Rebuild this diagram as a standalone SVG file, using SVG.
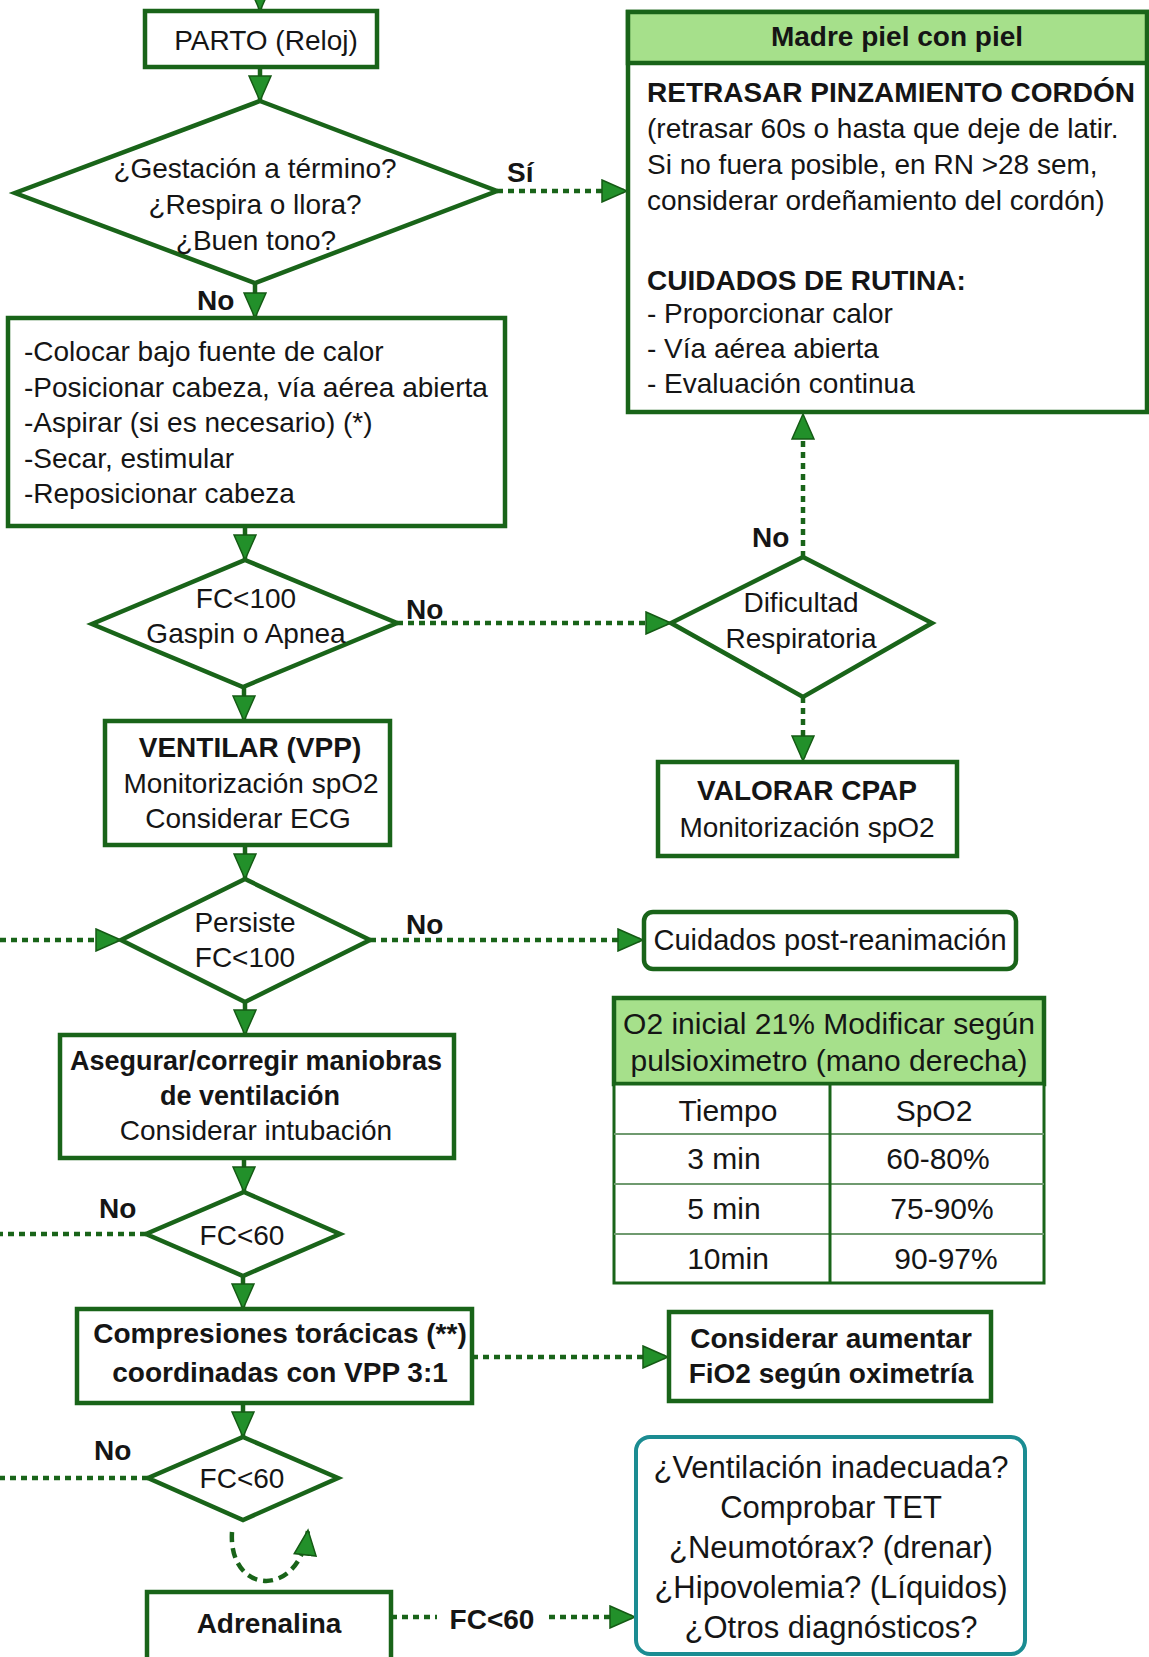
<svg xmlns="http://www.w3.org/2000/svg" width="1149" height="1657" viewBox="0 0 1149 1657">
<style>
.t{font-family:"Liberation Sans",Arial,sans-serif;font-size:28px;fill:#151515}
.b{font-weight:bold}
.c{text-anchor:middle}
.tb{font-size:30px}
.dg{font-size:31px}
.box{fill:#fff;stroke:#196419;stroke-width:4.5}
.hdr{fill:#a6e08b;stroke:#196419;stroke-width:4.5}
.solid{stroke:#196419;stroke-width:4.5;fill:none}
.dot{stroke:#196419;stroke-width:4.5;stroke-dasharray:6 5;fill:none}
.dash{stroke:#196419;stroke-width:4.5;stroke-dasharray:10 6;fill:none}
.grid{stroke:#6f9a6f;stroke-width:2;fill:none}
</style>
<defs>
<marker id="ah" markerUnits="userSpaceOnUse" markerWidth="28" markerHeight="24" refX="26" refY="12" orient="auto">
<path d="M1,1 L26,12 L1,23 z" fill="#22902a" stroke="#145a14" stroke-width="1.5"/>
</marker>
</defs>
<rect width="1149" height="1657" fill="#fff"/>

<g id="connectors">
<line class="solid" x1="260" y1="-10" x2="260" y2="11" marker-end="url(#ah)"/>
<line class="solid" x1="260" y1="67" x2="260" y2="101" marker-end="url(#ah)"/>
<line class="dot" x1="497" y1="191" x2="627" y2="191" marker-end="url(#ah)"/>
<line class="solid" x1="255" y1="283" x2="255" y2="318" marker-end="url(#ah)"/>
<line class="solid" x1="245" y1="526" x2="245" y2="560" marker-end="url(#ah)"/>
<line class="dot" x1="397" y1="623" x2="671" y2="623" marker-end="url(#ah)"/>
<line class="dot" x1="803" y1="557" x2="803" y2="414" marker-end="url(#ah)"/>
<line class="dot" x1="803" y1="697" x2="803" y2="761" marker-end="url(#ah)"/>
<line class="solid" x1="244" y1="687" x2="244" y2="721" marker-end="url(#ah)"/>
<line class="solid" x1="245" y1="845" x2="245" y2="879" marker-end="url(#ah)"/>
<line class="dot" x1="0" y1="940" x2="121" y2="940" marker-end="url(#ah)"/>
<line class="dot" x1="370" y1="940" x2="643" y2="940" marker-end="url(#ah)"/>
<line class="solid" x1="245" y1="1002" x2="245" y2="1035" marker-end="url(#ah)"/>
<line class="solid" x1="244" y1="1158" x2="244" y2="1192" marker-end="url(#ah)"/>
<line class="dot" x1="146" y1="1234" x2="0" y2="1234"/>
<line class="solid" x1="243" y1="1276" x2="243" y2="1309" marker-end="url(#ah)"/>
<line class="dot" x1="472" y1="1357" x2="668" y2="1357" marker-end="url(#ah)"/>
<line class="solid" x1="243" y1="1403" x2="243" y2="1437" marker-end="url(#ah)"/>
<line class="dot" x1="148" y1="1478" x2="0" y2="1478"/>
<path class="dash" d="M232,1532 C228,1595 300,1600 308,1530" marker-end="url(#ah)"/>
<line class="dot" x1="391" y1="1617" x2="437" y2="1617"/>
<line class="dot" x1="549" y1="1617" x2="635" y2="1617" marker-end="url(#ah)"/>
<text class="t b" x="507" y="182">Sí</text>
<text class="t b" x="197" y="310">No</text>
<text class="t b" x="406" y="619">No</text>
<text class="t b" x="752" y="547">No</text>
<text class="t b" x="406" y="934">No</text>
<text class="t b" x="99" y="1218">No</text>
<text class="t b" x="94" y="1460">No</text>
<text class="t b c" x="492" y="1629">FC&lt;60</text>
</g>

<g id="parto">
<rect class="box" x="145" y="11" width="232" height="56"/>
<text class="t c" x="266" y="50">PARTO (Reloj)</text>
</g>

<g id="decision-inicial">
<polygon class="box" points="260,101 497,191 255,283 15,193"/>
<text class="t c" x="255" y="178">¿Gestación a término?</text>
<text class="t c" x="255" y="214">¿Respira o llora?</text>
<text class="t c" x="256" y="250">¿Buen tono?</text>
</g>

<g id="madre-piel">
<rect class="box" x="628" y="12" width="519" height="400"/>
<rect class="hdr" x="628" y="12" width="519" height="51"/>
<text class="t b c" x="897" y="46">Madre piel con piel</text>
<text class="t b" x="647" y="102">RETRASAR PINZAMIENTO CORDÓN</text>
<text class="t" x="647" y="138">(retrasar 60s o hasta que deje de latir.</text>
<text class="t" x="647" y="174">Si no fuera posible, en RN &gt;28 sem,</text>
<text class="t" x="647" y="210">considerar ordeñamiento del cordón)</text>
<text class="t b" x="647" y="290">CUIDADOS DE RUTINA:</text>
<text class="t" x="647" y="323">- Proporcionar calor</text>
<text class="t" x="647" y="358">- Vía aérea abierta</text>
<text class="t" x="647" y="393">- Evaluación continua</text>
</g>

<g id="pasos-iniciales">
<rect class="box" x="8" y="318" width="497" height="208"/>
<text class="t" x="24" y="361">-Colocar bajo fuente de calor</text>
<text class="t" x="24" y="397">-Posicionar cabeza, vía aérea abierta</text>
<text class="t" x="24" y="432">-Aspirar (si es necesario) (*)</text>
<text class="t" x="24" y="468">-Secar, estimular</text>
<text class="t" x="24" y="503">-Reposicionar cabeza</text>
</g>

<g id="fc100-gaspin">
<polygon class="box" points="245,560 397,623 243,687 92,624"/>
<text class="t c" x="246" y="608">FC&lt;100</text>
<text class="t c" x="246" y="643">Gaspin o Apnea</text>
</g>

<g id="dificultad">
<polygon class="box" points="803,557 932,623 803,697 671,623"/>
<text class="t c" x="801" y="612">Dificultad</text>
<text class="t c" x="801" y="648">Respiratoria</text>
</g>

<g id="valorar-cpap">
<rect class="box" x="658" y="762" width="299" height="94"/>
<text class="t b c" x="807" y="800">VALORAR CPAP</text>
<text class="t c" x="807" y="837">Monitorización spO2</text>
</g>

<g id="ventilar">
<rect class="box" x="105" y="721" width="285" height="124"/>
<text class="t b c" x="250" y="757">VENTILAR (VPP)</text>
<text class="t c" x="251" y="793">Monitorización spO2</text>
<text class="t c" x="248" y="828">Considerar ECG</text>
</g>

<g id="persiste">
<polygon class="box" points="245,879 370,940 245,1002 121,940"/>
<text class="t c" x="245" y="932">Persiste</text>
<text class="t c" x="245" y="967">FC&lt;100</text>
</g>

<g id="post-reanimacion">
<rect class="box" x="644" y="912" width="372" height="57" rx="9"/>
<text class="t c" x="830" y="950" style="font-size:29px">Cuidados post-reanimación</text>
</g>

<g id="tabla-o2">
<rect class="hdr" x="614" y="998" width="430" height="86"/>
<rect x="614" y="1084" width="430" height="199" fill="#fff" stroke="#196419" stroke-width="3"/>
<line class="grid" x1="614" y1="1134" x2="1044" y2="1134"/>
<line class="grid" x1="614" y1="1184" x2="1044" y2="1184"/>
<line class="grid" x1="614" y1="1234" x2="1044" y2="1234"/>
<line x1="830" y1="1084" x2="830" y2="1283" stroke="#196419" stroke-width="3"/>
<text class="t c tb" x="829" y="1034">O2 inicial 21% Modificar según</text>
<text class="t c tb" x="829" y="1071">pulsioximetro (mano derecha)</text>
<text class="t c tb" x="728" y="1121">Tiempo</text>
<text class="t c tb" x="934" y="1121">SpO2</text>
<text class="t c tb" x="724" y="1169">3 min</text>
<text class="t c tb" x="938" y="1169">60-80%</text>
<text class="t c tb" x="724" y="1219">5 min</text>
<text class="t c tb" x="942" y="1219">75-90%</text>
<text class="t c tb" x="728" y="1269">10min</text>
<text class="t c tb" x="946" y="1269">90-97%</text>
</g>

<g id="asegurar">
<rect class="box" x="60" y="1035" width="394" height="123"/>
<text class="t b c" x="256" y="1070" style="font-size:27px">Asegurar/corregir maniobras</text>
<text class="t b c" x="250" y="1105" style="font-size:27px">de ventilación</text>
<text class="t c" x="256" y="1140">Considerar intubación</text>
</g>

<g id="fc60-1">
<polygon class="box" points="244,1192 340,1234 243,1276 146,1234"/>
<text class="t c" x="242" y="1245">FC&lt;60</text>
</g>

<g id="compresiones">
<rect class="box" x="77" y="1309" width="395" height="94"/>
<text class="t b c" x="280" y="1343">Compresiones torácicas (**)</text>
<text class="t b c" x="280" y="1382">coordinadas con VPP 3:1</text>
</g>

<g id="considerar-fio2">
<rect class="box" x="669" y="1312" width="322" height="89"/>
<text class="t b c" x="831" y="1348">Considerar aumentar</text>
<text class="t b c" x="831" y="1383">FiO2 según oximetría</text>
</g>

<g id="fc60-2">
<polygon class="box" points="243,1437 338,1478 243,1520 148,1478"/>
<text class="t c" x="242" y="1488">FC&lt;60</text>
</g>

<g id="adrenalina">
<rect class="box" x="147" y="1592" width="244" height="80"/>
<text class="t b c" x="269" y="1633">Adrenalina</text>
</g>

<g id="diagnosticos">
<rect x="636" y="1437" width="389" height="217" rx="14" fill="#fff" stroke="#1b8c92" stroke-width="4"/>
<text class="t c dg" x="831" y="1478">¿Ventilación inadecuada?</text>
<text class="t c dg" x="831" y="1518">Comprobar TET</text>
<text class="t c dg" x="831" y="1558">¿Neumotórax? (drenar)</text>
<text class="t c dg" x="831" y="1598">¿Hipovolemia? (Líquidos)</text>
<text class="t c dg" x="831" y="1638">¿Otros diagnósticos?</text>
</g>
</svg>
